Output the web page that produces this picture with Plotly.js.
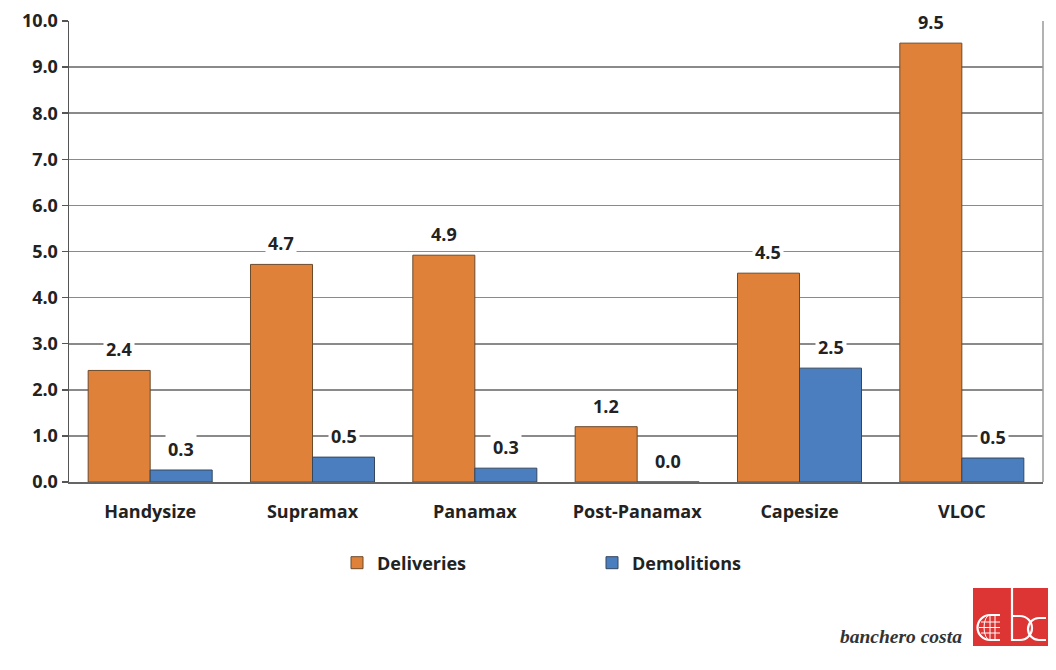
<!DOCTYPE html>
<html>
<head>
<meta charset="utf-8">
<script src="https://cdn.plot.ly/plotly-3.0.1.min.js"></script>
<style>html,body{margin:0;padding:0;background:#fff;}#chart{width:1056px;height:670px;}</style>
</head>
<body>
<div id="chart"></div>
<script>
const categories = ["Handysize", "Supramax", "Panamax", "Post-Panamax", "Capesize", "VLOC"];
const deliveries = [2.42, 4.72, 4.92, 1.20, 4.53, 9.52];
const demolitions = [0.26, 0.54, 0.30, 0.0, 2.47, 0.52];
const seriesNames = ["Deliveries", "Demolitions"];
const yTicks = [0, 1, 2, 3, 4, 5, 6, 7, 8, 9, 10];

const ORANGE = "#DF8139";
const BLUE = "#4A7EBF";
const TXT = "#222222";
const FONT = "Open Sans";
const FS = 18;

const traces = [
  {type: "bar", name: seriesNames[0], x: categories, y: deliveries,
   marker: {color: ORANGE, line: {color: "#6b4a2c", width: 1}}, hoverinfo: "skip"},
  {type: "bar", name: seriesNames[1], x: categories, y: demolitions,
   marker: {color: BLUE, line: {color: "#34475e", width: 1}}, hoverinfo: "skip"}
];

const annotations = [];
const off = 0.191;
[deliveries, demolitions].forEach((vals, s) => {
  vals.forEach((v, i) => {
    annotations.push({
      xref: "x", yref: "y", x: i + (s === 0 ? -off : off), y: v,
      text: v.toFixed(1), showarrow: false, yanchor: "middle", yshift: 21,
      bgcolor: "#ffffff", borderpad: 2,
      font: {family: FONT, size: FS, color: TXT, weight: "bold"}
    });
  });
});
annotations.push({
  xref: "paper", yref: "paper", x: (964 - 69) / 974, y: (482 - 636) / 461,
  xanchor: "right", yanchor: "middle", showarrow: false, text: "banchero costa",
  font: {family: "Liberation Serif", size: 19.5, color: "#333", style: "italic"}
});

const logoSvg =
  '<svg xmlns="http://www.w3.org/2000/svg" width="75" height="58" viewBox="0 0 75 58">' +
  '<rect x="0" y="0" width="75" height="58" fill="#DD3434"/>' +
  '<g fill="none" stroke="#ffffff" stroke-width="2.2">' +
  '<line x1="39" y1="0" x2="39" y2="53"/>' +
  '<path d="M39 28 h8 a12 12 0 0 1 0 24 h-8"/>' +
  '<path d="M73 30 h-7 a11 11 0 0 0 0 22 h7"/>' +
  '<path d="M27 27 h-10 a12.5 12.5 0 0 0 0 25 h10"/>' +
  '</g>' +
  '<g fill="none" stroke="#ffffff" stroke-width="1">' +
  '<line x1="6" y1="39.5" x2="27" y2="39.5"/>' +
  '<line x1="8" y1="34" x2="27" y2="34"/>' +
  '<line x1="8" y1="45" x2="27" y2="45"/>' +
  '<path d="M17 27 a6 12.5 0 0 0 0 25"/>' +
  '<line x1="17" y1="27" x2="17" y2="52"/>' +
  '<line x1="22" y1="27" x2="22" y2="52"/>' +
  '</g></svg>';

const layout = {
  width: 1056, height: 670,
  margin: {l: 69, r: 13, t: 21, b: 188},
  paper_bgcolor: "#ffffff", plot_bgcolor: "#ffffff",
  barmode: "group", bargap: 0.236, bargroupgap: 0,
  font: {family: FONT, size: FS, color: TXT, weight: "bold"},
  xaxis: {
    type: "category", showgrid: false, zeroline: false,
    showline: true, linecolor: "#666", linewidth: 1.5,
    ticks: "", ticklabelstandoff: 13,
    tickfont: {family: FONT, size: FS, color: TXT, weight: "bold"}
  },
  yaxis: {
    range: [0, 10], tickvals: yTicks, tickformat: ".1f",
    showgrid: true, gridcolor: "#8a8a8a", gridwidth: 1.6,
    zeroline: false, showline: true, linecolor: "#555", linewidth: 1.5,
    ticks: "outside", ticklen: 6, tickcolor: "#555", tickwidth: 1.5,
    tickfont: {family: FONT, size: FS, color: TXT, weight: "bold"}
  },
  showlegend: true,
  legend: {
    orientation: "h", x: (337 - 69) / 974, xanchor: "left",
    y: (482 - 563) / 461, yanchor: "middle",
    entrywidth: 210, entrywidthmode: "pixels",
    font: {family: FONT, size: FS, color: TXT, weight: "bold"},
    bgcolor: "rgba(0,0,0,0)"
  },
  shapes: [
    {type: "line", xref: "paper", yref: "paper", x0: 1, x1: 1, y0: 0, y1: 1,
     line: {color: "#9a9a9a", width: 1.5}}
  ],
  images: [{
    source: "data:image/svg+xml;base64," + btoa(logoSvg),
    xref: "paper", yref: "paper",
    x: (973 - 69) / 974, y: (482 - 588) / 461,
    sizex: 75 / 974, sizey: 58 / 461,
    xanchor: "left", yanchor: "top", sizing: "stretch", layer: "above"
  }],
  annotations: annotations
};

Plotly.newPlot("chart", traces, layout, {displayModeBar: false, staticPlot: true});
</script>
</body>
</html>
